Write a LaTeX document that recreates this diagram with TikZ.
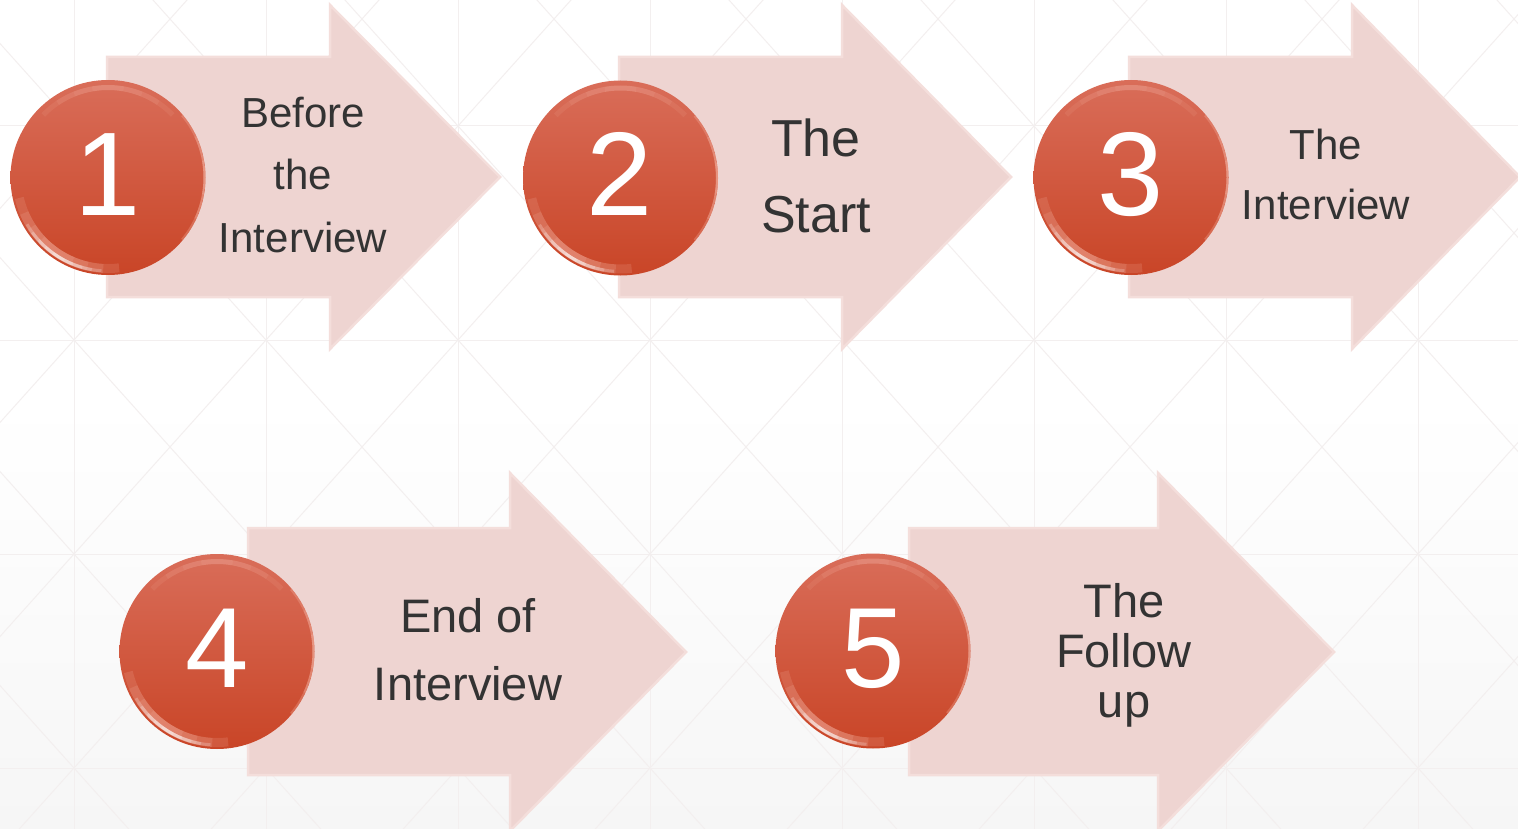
\documentclass[tikz,border=0pt]{standalone}
\usepackage{fontspec}
\setmainfont{Liberation Sans}
\definecolor{arrowfill}{HTML}{EED4D1}
\definecolor{arrowedge}{HTML}{F4DEDB}
\definecolor{txt}{HTML}{333333}
\definecolor{gridc}{HTML}{F3EFEF}
\definecolor{ctop}{HTML}{D96D59}
\definecolor{cmid}{HTML}{D8573A}
\definecolor{cbot}{HTML}{C94527}
\definecolor{bgbot}{HTML}{F6F6F6}
\definecolor{glow}{HTML}{F4B3A2}
\newcommand{\glossball}[1]{%
  \begin{scope}
    \clip (#1.center) circle (97.5);
    % lower-left glow and white crescent, tapered
    \foreach \s in {12,22,32,42} {
      \draw[glow, line width=9, opacity=0.18]
        ([shift={(125-\s:91)}]#1.center) arc[start angle=125-\s, end angle=125+\s, radius=91];
    }
    \foreach \s in {4,10,16,22,28} {
      \draw[white, line width=3, opacity=0.22]
        ([shift={(122-\s:93.5)}]#1.center) arc[start angle=122-\s, end angle=122+\s, radius=93.5];
    }
    % top soft band
    \foreach \s in {10,22,34,46} {
      \draw[glow, line width=5, opacity=0.12]
        ([shift={(270-\s:90)}]#1.center) arc[start angle=270-\s, end angle=270+\s, radius=90];
    }
    % right rim
    \foreach \s in {10,25,40} {
      \draw[glow, line width=2, opacity=0.3]
        ([shift={(-\s:96.5)}]#1.center) arc[start angle=-\s, end angle=\s, radius=96.5];
    }
  \end{scope}}
\begin{document}
\begin{tikzpicture}[x=1pt,y=-1pt,
  gridline/.style={draw=gridc, line width=1},
  arrowshape/.style={fill=arrowfill, draw=arrowedge, line width=2.5, line join=miter},
  ball/.style={circle, minimum size=195pt, inner sep=0pt, shading=axis,
    top color=ctop, middle color=cmid, bottom color=cbot},
  num/.style={text=white, anchor=base, inner sep=0pt},
  lbl/.style={text=txt, anchor=base, inner sep=0pt}]
\useasboundingbox (0,0) rectangle (1518,829);
% background
\fill[white] (0,0) rectangle (1518,829);
\shade[top color=white, bottom color=bgbot] (0,400) rectangle (1518,829);
\begin{scope}
  \clip (0,0) rectangle (1518,829);
  \foreach \i in {0,...,7} \draw[gridline] ({74+192*\i},0) -- ({74+192*\i},829);
  \foreach \j in {0,...,3} \draw[gridline] (0,{126+214*\j}) -- (1518,{126+214*\j});
  \foreach \i in {-1,...,7} {
    \foreach \j in {-1,...,3} {
      \draw[gridline] ({74+192*\i},{126+214*\j}) -- ({74+192*(\i+1)},{126+214*(\j+1)});
      \draw[gridline] ({74+192*(\i+1)},{126+214*\j}) -- ({74+192*\i},{126+214*(\j+1)});
    }
  }
\end{scope}
% arrows
\draw[arrowshape] (107,57) -- (330,57) -- (330,5) -- (500,177) -- (330,349) -- (330,297) -- (107,297) -- cycle;
\draw[arrowshape] (619,57) -- (842,57) -- (842,5) -- (1011,177) -- (842,349) -- (842,297) -- (619,297) -- cycle;
\draw[arrowshape] (1129,57) -- (1352,57) -- (1352,5) -- (1520,177) -- (1352,349) -- (1352,297) -- (1129,297) -- cycle;
\draw[arrowshape] (248,528) -- (510,528) -- (510,473) -- (686,652) -- (510,831) -- (510,775) -- (248,775) -- cycle;
\draw[arrowshape] (909,528) -- (1158,528) -- (1158,473) -- (1334,652) -- (1158,831) -- (1158,775) -- (909,775) -- cycle;
% balls
\node[ball] (c1) at (108,177.5) {};
\node[ball] (c2) at (620.5,178) {};
\node[ball] (c3) at (1131,177.5) {};
\node[ball] (c4) at (217,651.5) {};
\node[ball] (c5) at (873,651) {};
\glossball{c1}\glossball{c2}\glossball{c3}\glossball{c4}\glossball{c5}
% numbers
\node[num, font=\fontsize{119}{119}\selectfont] (n1) at (108,215) {1};
\node[num, font=\fontsize{119}{119}\selectfont] (n2) at (620,215) {2};
\node[num, font=\fontsize{119}{119}\selectfont] (n3) at (1131,215) {3};
\node[num, font=\fontsize{114}{114}\selectfont] (n4) at (217,687) {4};
\node[num, font=\fontsize{114}{114}\selectfont] (n5) at (873,687) {5};
% labels
\node[lbl, font=\fontsize{42}{42}\selectfont] (t1a) at (303,128) {Before};
\node[lbl, font=\fontsize{42}{42}\selectfont] (t1b) at (303,190) {the};
\node[lbl, font=\fontsize{42}{42}\selectfont] (t1c) at (303,252) {Interview};
\node[lbl, font=\fontsize{52}{52}\selectfont] (t2a) at (816,157) {The};
\node[lbl, font=\fontsize{52}{52}\selectfont] (t2b) at (816,233) {Start};
\node[lbl, font=\fontsize{42}{42}\selectfont] (t3a) at (1326,160) {The};
\node[lbl, font=\fontsize{42}{42}\selectfont] (t3b) at (1326,220) {Interview};
\node[lbl, font=\fontsize{47}{47}\selectfont] (t4a) at (468,632) {End of};
\node[lbl, font=\fontsize{47}{47}\selectfont] (t4b) at (468,700) {Interview};
\node[lbl, font=\fontsize{47}{47}\selectfont] (t5a) at (1124,617) {The};
\node[lbl, font=\fontsize{47}{47}\selectfont] (t5b) at (1124,667) {Follow};
\node[lbl, font=\fontsize{47}{47}\selectfont] (t5c) at (1124,717) {up};
\end{tikzpicture}
\end{document}
